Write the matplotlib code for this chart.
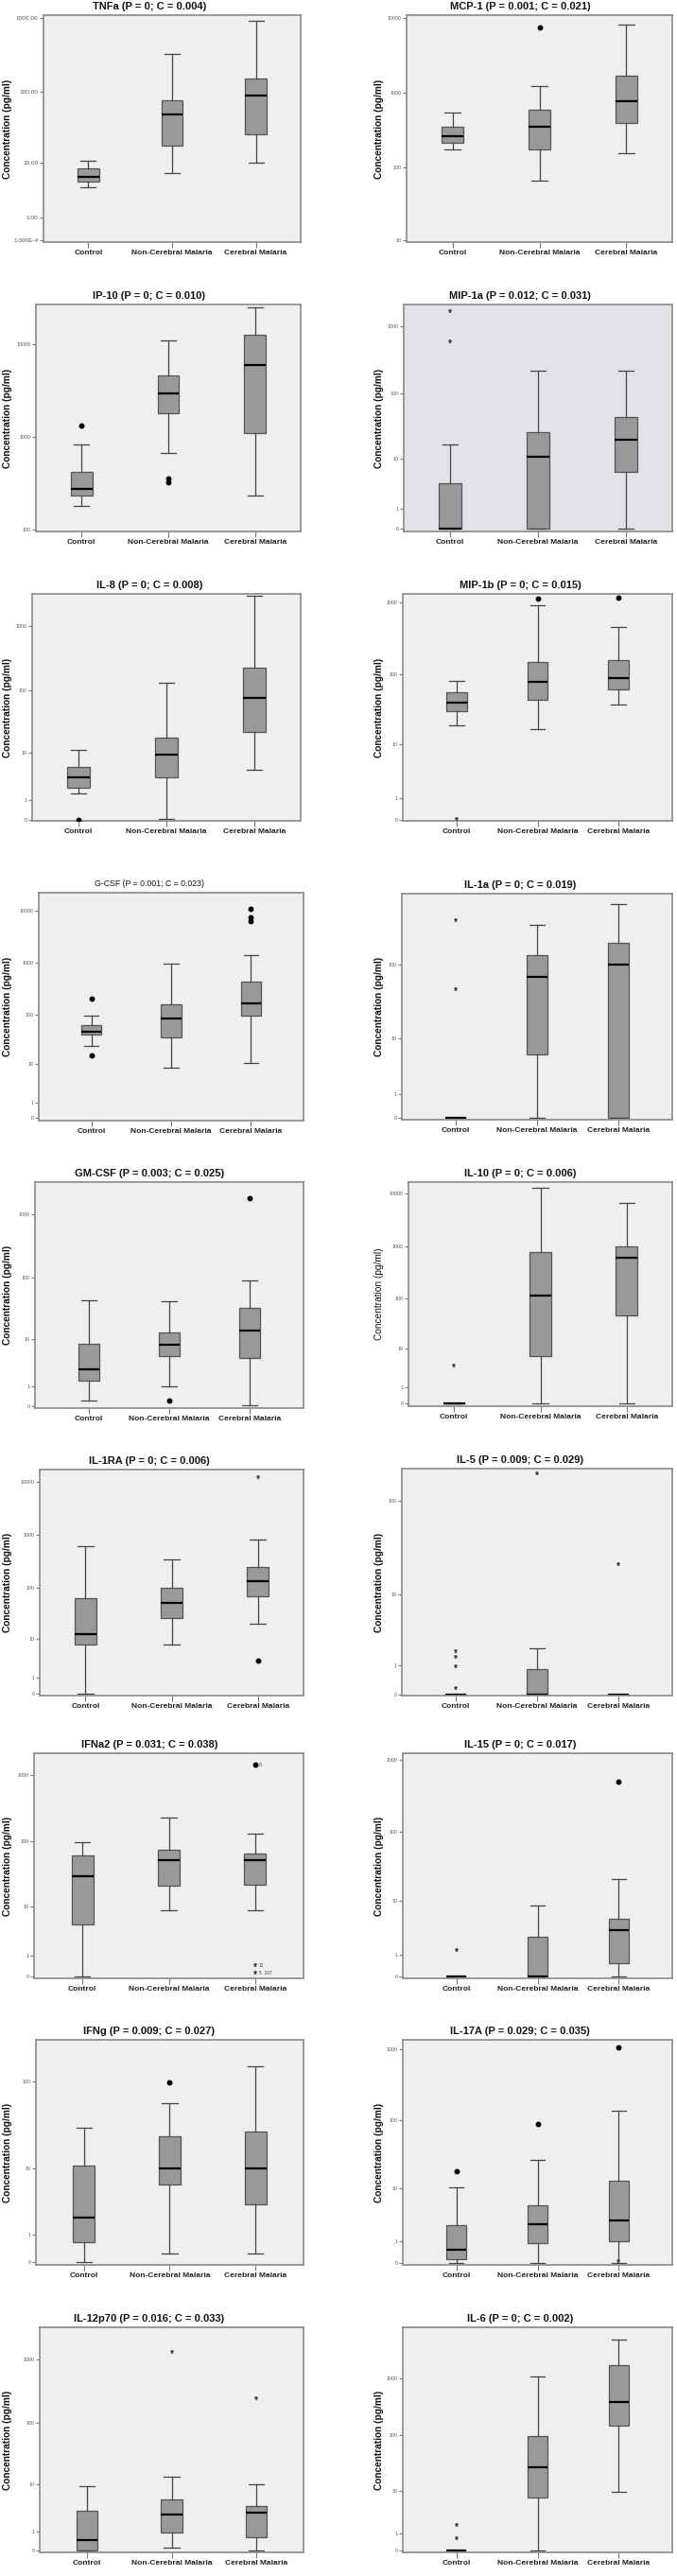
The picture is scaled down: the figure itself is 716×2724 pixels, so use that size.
import numpy as np
import matplotlib
matplotlib.use('Agg')
import matplotlib.pyplot as plt

plt.rcParams['font.family'] = ['Liberation Sans', 'DejaVu Sans']

GROUPS = ['Control', 'Non-Cerebral Malaria', 'Cerebral Malaria']

TITLES = ['TNFa (P = 0; C = 0.004)', 'MCP-1 (P = 0.001; C = 0.021)',
          'IP-10 (P = 0; C = 0.010)', 'MIP-1a (P = 0.012; C = 0.031)',
          'IL-8 (P = 0; C = 0.008)', 'MIP-1b (P = 0; C = 0.015)',
          'G-CSF (P = 0.001; C = 0.023)', 'IL-1a (P = 0; C = 0.019)',
          'GM-CSF (P = 0.003; C = 0.025)', 'IL-10 (P = 0; C = 0.006)',
          'IL-1RA (P = 0; C = 0.006)', 'IL-5 (P = 0.009; C = 0.029)',
          'IFNa2 (P = 0.031; C = 0.038)', 'IL-15 (P = 0; C = 0.017)',
          'IFNg (P = 0.009; C = 0.027)', 'IL-17A (P = 0.029; C = 0.035)',
          'IL-12p70 (P = 0.016; C = 0.033)', 'IL-6 (P = 0; C = 0.002)']

# box statistics per panel: [Control, Non-Cerebral Malaria, Cerebral Malaria]
WHISKER_LOW = [[4.19, 6.9, 10.0], [173, 66.6, 157], [179, 666, 236], [0, 0, 0],
               [1.53, 0.02, 4.97], [18.9, 16.8, 37.9], [23.5, 8.59, 10.5], [0, 0, 0],
               [0.227, 1.02, 0.01], [0, 0, 0], [0, 7.6, 19.9], [0, 0, 0],
               [0, 8.5, 8.5], [0, 0, 0], [0, 0.23, 0.23], [0, 0, 0],
               [0, 0.12, 0], [0, 0, 9.7]]
Q1 = [[5.19, 17.7, 25.4], [217, 177, 392], [231, 1815, 1090], [0, 0, 5.96],
      [2.10, 3.60, 21.9], [30.5, 44.2, 62.5], [39.7, 35.9, 95], [0, 5.68, 0],
      [1.45, 5.02, 4.63], [0, 6.9, 46.6], [7.6, 25.8, 67.9], [0, 0, 0],
      [5, 21, 22], [0, 0, 0.5], [0.66, 6.2, 3.4], [0.11, 0.88, 1.0],
      [0, 0.92, 0.6], [0, 7.3, 146]]
MEDIAN = [[6.17, 48.4, 88], [261, 349, 772], [276, 2950, 5920], [0, 10.7, 20.1],
          [3.50, 9.3, 77.7], [40.3, 79, 89.3], [45.9, 84.7, 167], [0, 68.7, 100],
          [2.78, 8.07, 14.1], [0, 114, 605], [12.3, 50, 132], [0, 0, 0],
          [30, 53, 53], [0, 0, 3.3], [2.1, 10, 10], [0.53, 2.5, 2.9],
          [0.43, 2.7, 2.9], [0, 27, 380]]
Q3 = [[8.16, 75, 150], [356, 600, 1705], [416, 4645, 12440], [3.77, 26.1, 44.4],
      [5.54, 17.5, 232], [56.5, 151, 157], [62.8, 160, 430], [0, 132, 192],
      [8.49, 12.97, 33.3], [0, 765, 1008], [61.5, 97.2, 245], [0, 0.853, 0],
      [62, 75, 67], [0, 2.5, 5.3], [10.8, 24, 27.5], [2.4, 5.3, 13],
      [3.2, 5.3, 4], [0, 99, 1660]]
WHISKER_HIGH = [[10.6, 323, 905], [540, 1239, 8000], [835, 10990, 25000], [16.8, 223, 223],
                [11.2, 133, 2970], [82.4, 905, 462], [96.2, 945, 1400], [0, 333, 624],
                [44.0, 43.0, 90.2], [0, 13200, 6710], [613, 336, 808], [0, 2.02, 0],
                [99, 233, 131], [0, 8.5, 21], [30, 57, 151], [10.3, 27, 134],
                [9.2, 13.5, 9.8], [0, 1060, 4650]]

# outliers (filled circles) and extremes (stars)
DOTS = [[[], [], []], [[], [7340], []], [[1336], [358, 326], []], [[], [], []],
        [[0], [], []], [[], [1140], [1163]], [[198, 15.6], [], [11190, 7650, 6470]], [[], [], []],
        [[], [0.227], [1830]], [[], [], []], [[], [], [3.17]], [[], [], []],
        [[], [], [1400]], [[], [], [500]], [[], [99], []], [[18], [88], [1050]],
        [[], [], []], [[], [], []]]
STARS = [[[], [], []], [[], [], []], [[], [], []], [[1680, 609], [], []],
         [[], [], []], [[0.03], [], []], [[], [], []], [[384, 46.7], [], []],
         [[], [], []], [[4.29], [], []], [[], [], [11950]], [[1.80, 1.46, 0.98, 0.171], [194], [21.6]],
         [[], [], [0.45, 0.12]], [[1.3], [], []], [[], [], []], [[], [], [0.05]],
         [[], [1340], [250]], [[1.8, 0.67], [], []]]
# case labels next to a few outliers: (panel, group, value, text)
CASE_LABELS = [(12, 2, 1400, '8'), (12, 2, 0.45, '12'), (12, 2, 0.12, '5 .167')]

YTICKS = [[1e-4, 1, 10, 100, 1000], [10, 100, 1000, 10000], [100, 1000, 10000],
          [0, 1, 10, 100, 1000], [0, 1, 10, 100, 1000], [0, 1, 10, 100, 1000],
          [0, 1, 10, 100, 1000, 10000], [0, 1, 10, 100], [0, 1, 10, 100, 1000],
          [0, 1, 10, 100, 1000, 10000], [0, 1, 10, 100, 1000, 10000], [0, 1, 10, 100],
          [0, 1, 10, 100, 1000], [0, 1, 10, 100, 1000], [0, 1, 10, 100],
          [0, 1, 10, 100, 1000], [0, 1, 10, 100, 1000], [0, 1, 10, 100, 1000]]
TNFA_TICKLABELS = ['1.000E-4', '1.00', '10.00', '100.00', '1000.00']
YLIMS = [(-0.067, 1081), (9.28, 10800), (95.4, 26600), (-0.092, 2130),
         (-0.044, 3213), (-0.039, 1312), (-0.106, 22580), (-0.064, 854),
         (-0.0765, 3230), (-0.111, 16700), (-0.075, 16830), (-0.0223, 218),
         (-0.07, 2090), (-0.07, 1230), (-0.07, 295), (-0.07, 1350),
         (-0.07, 3250), (-0.07, 7700)]

# layout (pixels): left, top, right, bottom of each plot area, and side margin in category units
AX_PIX = [(46, 16, 318, 256), (430, 16, 711, 256),
          (38, 322, 318, 562), (427, 322, 711, 562),
          (34, 628, 318, 868), (426, 628, 711, 868),
          (41, 944, 321, 1185), (425, 945, 711, 1184),
          (37, 1250, 321, 1489), (432, 1250, 711, 1487),
          (42, 1554, 321, 1793), (425, 1553, 711, 1793),
          (36, 1854, 321, 2092), (426, 1854, 711, 2092),
          (38, 2157, 321, 2395), (426, 2157, 711, 2395),
          (42, 2461, 321, 2699), (426, 2461, 711, 2699)]
MARGINS = [0.536, 0.531, 0.525, 0.528, 0.528, 0.668, 0.663, 0.664, 0.669, 0.528,
           0.530, 0.667, 0.56, 0.66, 0.56, 0.66, 0.56, 0.66]

W, H = 716, 2724
fig = plt.figure(figsize=(W / 100, H / 100), dpi=100)
fig.patch.set_facecolor('white')


def fwd(x):
    x = np.asarray(x, dtype=float)
    return np.log10(np.clip(x, -0.999, None) + 1.0)


def inv(y):
    return 10.0 ** np.asarray(y, dtype=float) - 1.0


for i in range(18):
    l, t, r, b = AX_PIX[i]
    ax = fig.add_axes([l / W, 1 - b / H, (r - l) / W, (b - t) / H])
    ax.set_facecolor('#e2e2e8' if i == 3 else '#efefef')
    ax.set_yscale('function', functions=(fwd, inv))
    stats = []
    for g in range(3):
        stats.append(dict(whislo=WHISKER_LOW[i][g], q1=Q1[i][g], med=MEDIAN[i][g],
                          q3=Q3[i][g], whishi=WHISKER_HIGH[i][g], fliers=[]))
    ax.bxp(stats, positions=[1, 2, 3], widths=0.25, patch_artist=True, showfliers=False,
           capwidths=0.18,
           boxprops=dict(facecolor='#999999', edgecolor='#555555', linewidth=0.9),
           medianprops=dict(color='black', linewidth=1.6),
           whiskerprops=dict(color='#444444', linewidth=0.9),
           capprops=dict(color='#444444', linewidth=0.9))
    for g in range(3):
        if DOTS[i][g]:
            ax.plot([g + 1] * len(DOTS[i][g]), DOTS[i][g], linestyle='none', marker='o',
                    markersize=3.2, color='black', zorder=5)
        if STARS[i][g]:
            ax.plot([g + 1] * len(STARS[i][g]), STARS[i][g], linestyle='none', marker='*',
                    markersize=3.6, color='#444444', markeredgewidth=0.3, zorder=5)
    for (p, g, v, txt) in CASE_LABELS:
        if p == i:
            ax.annotate(txt, (g + 1, v), xytext=(3, 0), textcoords='offset points',
                        fontsize=3.5, color='#444444', va='center')
    m = MARGINS[i]
    ax.set_xlim(1 - m, 3 + m)
    ax.set_ylim(*YLIMS[i])
    ax.set_xticks([1, 2, 3])
    ax.set_xticklabels(GROUPS, fontsize=6, fontweight='bold', color='#222222')
    ax.set_yticks(YTICKS[i])
    ax.yaxis.set_minor_locator(matplotlib.ticker.NullLocator())
    if i == 0:
        ax.set_yticklabels(TNFA_TICKLABELS, fontsize=4.6, color='#555555')
    else:
        ax.set_yticklabels([str(v) for v in YTICKS[i]], fontsize=3.8, color='#555555')
    ax.tick_params(axis='y', direction='out', length=3, width=0.8, color='#777777', pad=1)
    ax.tick_params(axis='x', direction='out', length=4, width=0.8, color='#777777', pad=2)
    for s in ax.spines.values():
        s.set_color('#8a8a8a')
        s.set_linewidth(1.2)

    left_col = (i % 2 == 0)
    tx = 158 if left_col else 550
    if i == 6:
        fig.text(tx / W, 1 - (t - 9) / H, TITLES[i], ha='center', va='center',
                 fontsize=6.3, color='#111111')
    else:
        fig.text(tx / W, 1 - (t - 9) / H, TITLES[i], ha='center', va='center',
                 fontsize=8, fontweight='bold', color='#111111')
    lx = 8 if left_col else 401
    fig.text(lx / W, 1 - ((t + b) / 2) / H, 'Concentration (pg/ml)', rotation=90,
             ha='center', va='center', fontsize=7.3,
             fontweight='normal' if i == 9 else 'bold', color='#111111')

fig.savefig('out.png', dpi=100, facecolor='white')
